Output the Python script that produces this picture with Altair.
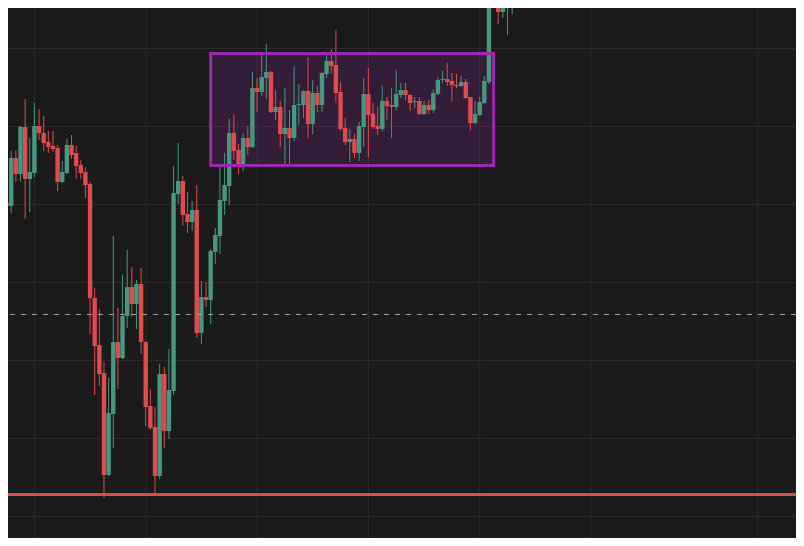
import altair as alt
import pandas as pd

# OHLC values (bar index 0..111)
opens = [837, 797, 794, 842, 826, 873, 821, 827, 874, 867,
         858, 854, 852, 818, 827, 855, 847, 835, 828, 816,
         702, 655, 627, 525, 586, 658, 642, 684, 713, 696,
         716, 658, 594, 573, 524, 626, 569, 609, 806, 819,
         786, 778, 790, 667, 703, 700, 748, 764, 799, 814,
         867, 850, 833, 862, 853, 912, 908, 922, 928, 888,
         893, 866, 872, 862, 895, 895, 909, 876, 907, 895,
         926, 939, 935, 908, 872, 858, 861, 847, 873, 906,
         886, 874, 871, 899, 895, 893, 905, 910, 905, 898,
         899, 886, 895, 890, 906, 920, 921, 919, 915, 914,
         918, 903, 877, 885, 897, 918, 997, 1006, 988, 1030,
         1004, 1012]
highs = [839, 813, 849, 850, 874, 901, 862, 897, 891, 884,
         869, 869, 855, 839, 861, 865, 854, 840, 833, 818,
         712, 691, 638, 622, 764, 692, 725, 750, 733, 720,
         732, 659, 611, 593, 636, 633, 651, 834, 857, 824,
         808, 799, 815, 719, 718, 751, 772, 833, 847, 881,
         885, 856, 867, 874, 928, 922, 947, 956, 929, 910,
         899, 912, 890, 934, 916, 910, 943, 920, 914, 928,
         946, 951, 970, 918, 882, 871, 866, 878, 922, 932,
         897, 893, 914, 903, 912, 930, 917, 917, 906, 903,
         903, 899, 900, 911, 923, 929, 937, 927, 926, 924,
         921, 903, 899, 903, 924, 1000, 1012, 1014, 1018, 1040,
         1040, 1045]
lows = [764, 777, 787, 818, 818, 781, 788, 823, 860, 849,
        847, 848, 809, 817, 826, 841, 821, 821, 802, 666,
        605, 614, 502, 524, 552, 611, 641, 672, 683, 671,
        646, 574, 570, 506, 521, 552, 561, 605, 796, 774,
        767, 769, 662, 656, 693, 676, 736, 746, 785, 795,
        840, 826, 829, 845, 852, 888, 904, 901, 887, 880,
        853, 835, 835, 859, 875, 882, 862, 866, 888, 888,
        922, 926, 897, 869, 855, 838, 842, 839, 853, 843,
        871, 865, 869, 880, 862, 890, 902, 900, 889, 892,
        885, 885, 886, 887, 905, 917, 914, 899, 912, 913,
        901, 870, 876, 884, 896, 916, 992, 976, 982, 965,
        986, 993]
closes = [797, 794, 842, 826, 873, 821, 828, 874, 867, 857,
          853, 851, 818, 828, 855, 845, 834, 827, 815, 702,
          654, 626, 525, 587, 658, 642, 684, 713, 696, 716,
          658, 593, 572, 524, 626, 569, 610, 807, 819, 785,
          778, 790, 667, 703, 700, 749, 765, 800, 815, 867,
          849, 833, 862, 853, 912, 908, 923, 928, 888, 893,
          866, 872, 862, 895, 896, 909, 876, 907, 895, 927,
          939, 934, 907, 871, 858, 861, 847, 874, 906, 885,
          873, 871, 899, 894, 893, 906, 910, 905, 897, 899,
          886, 895, 890, 907, 920, 921, 918, 915, 914, 918,
          902, 877, 886, 898, 919, 998, 1006, 988, 1010, 1008,
          1030, 1035]
bars = list(range(len(opens)))

# Reference levels and drawings
hgrid_prices = [951.5, 873.5, 795.5, 717.5, 639.5, 561.5, 483.5]
vgrid_bars = [7, 31, 55, 79, 103, 127, 163]
box_bars = [45, 106]
box_prices = [834.5, 946.5]
support_price = [505.5]
last_price = [685.5]

GREEN = "#47987e"
RED = "#e04b50"
PURPLE = "#9c27b0"
BG = "#1b1b1b"
GRID = "#2b2b2b"

df = pd.DataFrame({"bar": bars, "open": opens, "high": highs,
                   "low": lows, "close": closes})

xs = alt.Scale(domain=[1.304, 171.2], nice=False, zero=False, padding=0)
ys = alt.Scale(domain=[462, 992], nice=False, zero=False, padding=0)

color = alt.condition("datum.open <= datum.close", alt.value(GREEN), alt.value(RED))

vgrid = alt.Chart(pd.DataFrame({"bar": vgrid_bars})).mark_rule(
    color=GRID, strokeWidth=1, clip=True
).encode(x=alt.X("bar:Q", scale=xs, axis=None))

hgrid = alt.Chart(pd.DataFrame({"price": hgrid_prices})).mark_rule(
    color=GRID, strokeWidth=1, clip=True
).encode(y=alt.Y("price:Q", scale=ys, axis=None))

box_df = pd.DataFrame({"b1": [box_bars[0]], "b2": [box_bars[1]],
                       "p1": [box_prices[0]], "p2": [box_prices[1]]})

box_fill = alt.Chart(box_df).mark_rect(
    color=PURPLE, opacity=0.2, clip=True
).encode(
    x=alt.X("b1:Q", scale=xs, axis=None), x2="b2:Q",
    y=alt.Y("p1:Q", scale=ys, axis=None), y2="p2:Q",
)

box_border = alt.Chart(box_df).mark_rect(
    fill=None, stroke=PURPLE, strokeWidth=3, clip=True
).encode(
    x=alt.X("b1:Q", scale=xs, axis=None), x2="b2:Q",
    y=alt.Y("p1:Q", scale=ys, axis=None), y2="p2:Q",
)

wicks = alt.Chart(df).mark_rule(strokeWidth=1, clip=True).encode(
    x=alt.X("bar:Q", scale=xs, axis=None),
    y=alt.Y("low:Q", scale=ys, axis=None),
    y2="high:Q",
    color=color,
)

bodies = alt.Chart(df).mark_bar(size=4.4, clip=True).encode(
    x=alt.X("bar:Q", scale=xs, axis=None),
    y=alt.Y("open:Q", scale=ys, axis=None),
    y2="close:Q",
    color=color,
)

dashed = alt.Chart(pd.DataFrame({"price": last_price})).mark_rule(
    color="#a0a0a0", strokeWidth=1, strokeDash=[5, 6], clip=True
).encode(y=alt.Y("price:Q", scale=ys, axis=None))

support = alt.Chart(pd.DataFrame({"price": support_price})).mark_rule(
    color=RED, strokeWidth=3, clip=True
).encode(y=alt.Y("price:Q", scale=ys, axis=None))

chart = alt.layer(
    vgrid, hgrid, box_fill, wicks, bodies, dashed, box_border, support
).properties(
    width=788, height=530, padding=0,
    autosize=alt.AutoSizeParams(type="none"),
    background=BG,
).configure_view(stroke=None)

chart.save("out.html", embed_options={"renderer": "svg", "actions": False})
